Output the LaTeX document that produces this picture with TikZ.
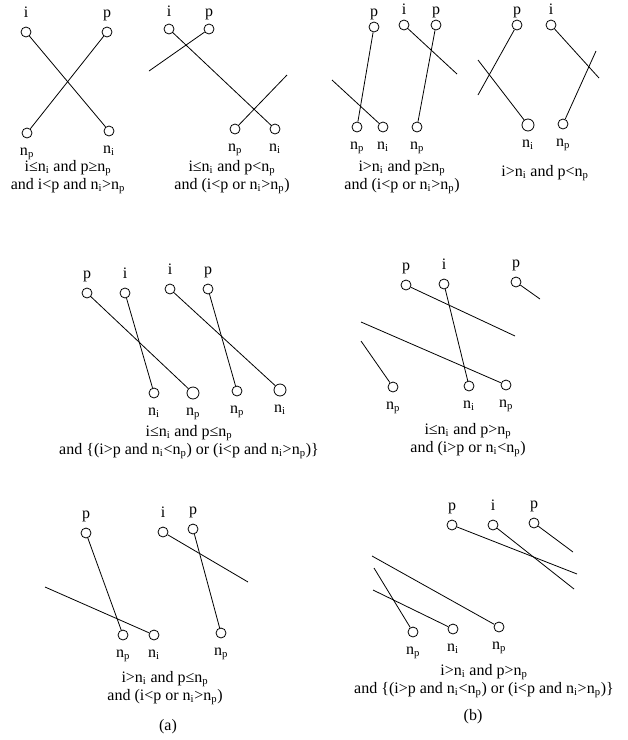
\documentclass[tikz,border=0pt]{standalone}
\usepackage{fontspec}
\setmainfont{Liberation Serif}
\usetikzlibrary{positioning}

\newcommand{\nI}{n\textsubscript{i}}
\newcommand{\nP}{n\textsubscript{p}}

\begin{document}
\begin{tikzpicture}[
  x=0.75pt, y=-0.75pt,
  vtx/.style={draw, circle, minimum size=7.5pt, inner sep=0pt, line width=0.6pt},
  lbl/.style={inner sep=0.5pt, text height=8pt, text depth=2.5pt, font=\fontsize{12}{13.5}\selectfont},
  cond/.style={align=center, inner sep=0pt, font=\fontsize{12}{13.5}\selectfont},
  wire/.style={line width=0.6pt},
  node distance=4pt
]
  \useasboundingbox (0,0) rectangle (628,740);

  % (a) top: i<=ni and p>=np
  \node[vtx] (a1i) at (26,32) {};
  \node[vtx] (a1p) at (107,32) {};
  \node[vtx] (a1np) at (27,133) {};
  \node[vtx] (a1ni) at (109,131) {};
  \node[lbl, above=of a1i] (a1il) {i};
  \node[lbl, above=of a1p] (a1pl) {p};
  \node[lbl, below=of a1np] (a1npl) {\nP};
  \node[lbl, below=of a1ni] (a1nil) {\nI};
  \draw[wire] (a1i) -- (a1ni);
  \draw[wire] (a1p) -- (a1np);
  \node[cond] (a1c) at (68,177) {i≤\nI{} and p≥\nP\\and i<p and \nI>\nP};

  % (a) top: i<=ni and p<np
  \node[vtx] (a2i) at (169,29) {};
  \node[vtx] (a2p) at (209,29) {};
  \node[vtx] (a2np) at (235,129) {};
  \node[vtx] (a2ni) at (275,129) {};
  \coordinate (a2e1) at (149,71);
  \coordinate (a2e2) at (287,75);
  \node[lbl, above=2pt of a2i] (a2il) {i};
  \node[lbl, above=2pt of a2p] (a2pl) {p};
  \node[lbl, below=of a2np] (a2npl) {\nP};
  \node[lbl, below=of a2ni] (a2nil) {\nI};
  \draw[wire] (a2i) -- (a2ni);
  \draw[wire] (a2p) -- (a2e1);
  \draw[wire] (a2np) -- (a2e2);
  \node[cond] (a2c) at (232,177) {i≤\nI{} and p<\nP\\and (i<p or \nI>\nP)};

  % (b) top: i>ni and p>=np
  \node[vtx] (b1p) at (374,27) {};
  \node[vtx] (b1i) at (404,25) {};
  \node[vtx] (b1q) at (436,25) {};
  \node[vtx] (b1np) at (357,127) {};
  \node[vtx] (b1ni) at (383,127) {};
  \node[vtx] (b1nq) at (417,127) {};
  \coordinate (b1e1) at (332,80);
  \coordinate (b1e2) at (457,74);
  \node[lbl, above=1pt of b1p] (b1pl) {p};
  \node[lbl, above=1pt of b1i] (b1il) {i};
  \node[lbl, above=1pt of b1q] (b1ql) {p};
  \node[lbl, below=of b1np] (b1npl) {\nP};
  \node[lbl, below=of b1ni] (b1nil) {\nI};
  \node[lbl, below=of b1nq] (b1nql) {\nP};
  \draw[wire] (b1p) -- (b1np);
  \draw[wire] (b1ni) -- (b1e1);
  \draw[wire] (b1i) -- (b1e2);
  \draw[wire] (b1q) -- (b1nq);
  \node[cond] (b1c) at (402,177) {i>\nI{} and p≥\nP\\and (i<p or \nI>\nP)};

  % (b) top: i>ni and p<np
  \node[vtx] (b2p) at (517,25) {};
  \node[vtx] (b2i) at (551,25) {};
  \node[vtx, minimum size=9pt] (b2ni) at (528,125) {};
  \node[vtx] (b2np) at (563,124) {};
  \coordinate (b2e1) at (478,95);
  \coordinate (b2e2) at (478,60);
  \coordinate (b2e3) at (599,78);
  \coordinate (b2e4) at (596,51);
  \node[lbl, above=1pt of b2p] (b2pl) {p};
  \node[lbl, above=1pt of b2i] (b2il) {i};
  \node[lbl, below=3pt of b2ni] (b2nil) {\nI};
  \node[lbl, below=of b2np] (b2npl) {\nP};
  \draw[wire] (b2p) -- (b2e1);
  \draw[wire] (b2ni) -- (b2e2);
  \draw[wire] (b2i) -- (b2e3);
  \draw[wire] (b2np) -- (b2e4);
  \node[cond] (b2c) at (545,173) {i>\nI{} and p<\nP};

  % (a) middle: i<=ni and p<=np
  \node[vtx] (a3p) at (87,293) {};
  \node[vtx] (a3i) at (125,293) {};
  \node[vtx] (a3j) at (170,289) {};
  \node[vtx] (a3q) at (208,289) {};
  \node[vtx] (a3ni) at (154,393) {};
  \node[vtx, minimum size=9pt] (a3np) at (193,393) {};
  \node[vtx] (a3nq) at (237,391) {};
  \node[vtx, minimum size=9pt] (a3nj) at (280,390) {};
  \node[lbl, above=of a3p] (a3pl) {p};
  \node[lbl, above=of a3i] (a3il) {i};
  \node[lbl, above=of a3j] (a3jl) {i};
  \node[lbl, above=of a3q] (a3ql) {p};
  \node[lbl, below=of a3ni] (a3nil) {\nI};
  \node[lbl, below=3pt of a3np] (a3npl) {\nP};
  \node[lbl, below=of a3nq] (a3nql) {\nP};
  \node[lbl, below=3pt of a3nj] (a3njl) {\nI};
  \draw[wire] (a3p) -- (a3np);
  \draw[wire] (a3i) -- (a3ni);
  \draw[wire] (a3j) -- (a3nj);
  \draw[wire] (a3q) -- (a3nq);
  \node[cond] (a3c) at (189,442) {i≤\nI{} and p≤\nP\\and \{(i>p and \nI<\nP) or (i<p and \nI>\nP)\}};

  % (b) middle: i<=ni and p>np
  \node[vtx] (b3p) at (406,285) {};
  \node[vtx] (b3i) at (444,284) {};
  \node[vtx] (b3q) at (516,282) {};
  \node[vtx] (b3np) at (393,387) {};
  \node[vtx] (b3ni) at (469,386) {};
  \node[vtx] (b3nq) at (506,385) {};
  \coordinate (b3e1) at (515,336);
  \coordinate (b3e2) at (540,299);
  \coordinate (b3e3) at (361,322);
  \coordinate (b3e4) at (361,341);
  \node[lbl, above=of b3p] (b3pl) {p};
  \node[lbl, above=of b3i] (b3il) {i};
  \node[lbl, above=of b3q] (b3ql) {p};
  \node[lbl, below=of b3np] (b3npl) {\nP};
  \node[lbl, below=of b3ni] (b3nil) {\nI};
  \node[lbl, below=of b3nq] (b3nql) {\nP};
  \draw[wire] (b3p) -- (b3e1);
  \draw[wire] (b3i) -- (b3ni);
  \draw[wire] (b3q) -- (b3e2);
  \draw[wire] (b3nq) -- (b3e3);
  \draw[wire] (b3np) -- (b3e4);
  \node[cond] (b3c) at (468,440) {i≤\nI{} and p>\nP\\and (i>p or \nI<\nP)};

  % (a) bottom: i>ni and p<=np
  \node[vtx] (a4p) at (86,533) {};
  \node[vtx] (a4i) at (163,532) {};
  \node[vtx] (a4q) at (193,529) {};
  \node[vtx] (a4np) at (123,635) {};
  \node[vtx] (a4ni) at (154,635) {};
  \node[vtx] (a4nq) at (221,633) {};
  \coordinate (a4e1) at (45,587);
  \coordinate (a4e2) at (248,582);
  \node[lbl, above=of a4p] (a4pl) {p};
  \node[lbl, above=of a4i] (a4il) {i};
  \node[lbl, above=of a4q] (a4ql) {p};
  \node[lbl, below=of a4np] (a4npl) {\nP};
  \node[lbl, below=of a4ni] (a4nil) {\nI};
  \node[lbl, below=of a4nq] (a4nql) {\nP};
  \draw[wire] (a4p) -- (a4np);
  \draw[wire] (a4ni) -- (a4e1);
  \draw[wire] (a4i) -- (a4e2);
  \draw[wire] (a4q) -- (a4nq);
  \node[cond] (a4c) at (165,688) {i>\nI{} and p≤\nP\\and (i<p or \nI>\nP)};
  \node[lbl] (acap) at (168,727) {(a)};

  % (b) bottom: i>ni and p>np
  \node[vtx] (b4p) at (452,525) {};
  \node[vtx] (b4i) at (493,525) {};
  \node[vtx] (b4q) at (534,523) {};
  \node[vtx] (b4np) at (413,632) {};
  \node[vtx] (b4ni) at (453,629) {};
  \node[vtx] (b4nq) at (499,627) {};
  \coordinate (b4e1) at (577,574);
  \coordinate (b4e2) at (574,589);
  \coordinate (b4e3) at (573,552);
  \coordinate (b4e4) at (372,556);
  \coordinate (b4e5) at (373,590);
  \coordinate (b4e6) at (374,568);
  \node[lbl, above=of b4p] (b4pl) {p};
  \node[lbl, above=of b4i] (b4il) {i};
  \node[lbl, above=of b4q] (b4ql) {p};
  \node[lbl, below=of b4np] (b4npl) {\nP};
  \node[lbl, below=of b4ni] (b4nil) {\nI};
  \node[lbl, below=of b4nq] (b4nql) {\nP};
  \draw[wire] (b4p) -- (b4e1);
  \draw[wire] (b4i) -- (b4e2);
  \draw[wire] (b4q) -- (b4e3);
  \draw[wire] (b4nq) -- (b4e4);
  \draw[wire] (b4ni) -- (b4e5);
  \draw[wire] (b4np) -- (b4e6);
  \node[cond] (b4c) at (484,681) {i>\nI{} and p>\nP\\and \{(i>p and \nI<\nP) or (i<p and \nI>\nP)\}};
  \node[lbl] (bcap) at (473,717) {(b)};
\end{tikzpicture}
\end{document}
